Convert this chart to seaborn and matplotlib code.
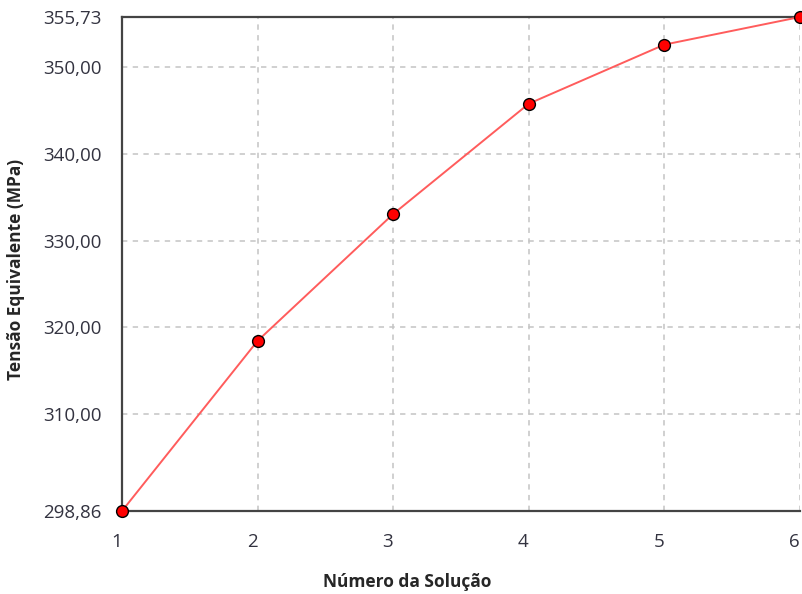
import pandas as pd
import matplotlib.pyplot as plt
import seaborn as sns

# data
solucao = [1, 2, 3, 4, 5, 6]
tensao = [298.86, 318.45, 333.05, 345.75, 352.55, 355.73]
y_ticks = [298.86, 310.00, 320.00, 330.00, 340.00, 350.00, 355.73]

df = pd.DataFrame({'solucao': solucao, 'tensao': tensao})

sns.set_style('white')
plt.rcParams['font.family'] = ['Open Sans', 'DejaVu Sans']

fig = plt.figure(figsize=(8.02, 5.94), dpi=100)
ax = fig.add_axes([122 / 802, 1 - 511 / 594, 678 / 802, 494 / 594])

sns.lineplot(data=df, x='solucao', y='tensao', ax=ax, color='#ff5c5c', linewidth=1.4,
             marker='o', markersize=8.5, markerfacecolor='red', markeredgecolor='black',
             markeredgewidth=1.0, clip_on=False, zorder=5)

ax.set_xlim(1, 6)
ax.set_ylim(298.86, 355.73)
ax.set_xticks(solucao)
ax.set_yticks(y_ticks)
ax.set_yticklabels([f'{v:.2f}'.replace('.', ',') for v in y_ticks])

ax.grid(True, color='#c4c4c4', linestyle=(0, (3.5, 3.5)), linewidth=1.1)
for side in ['left', 'bottom', 'top']:
    ax.spines[side].set_color('#444444')
    ax.spines[side].set_linewidth(1.6)
ax.spines['right'].set_visible(False)

ax.tick_params(axis='y', length=8.5, width=1, color='#aaaaaa', labelsize=13.5, labelcolor='#333340', pad=6)
ax.tick_params(axis='x', length=0, labelsize=13.5, labelcolor='#333340', pad=16)
for lbl in ax.get_xticklabels():
    lbl.set_horizontalalignment('right')

ax.set_xlabel('')
ax.set_ylabel('')
fig.text(407 / 802, 1 - 582 / 594, 'Número da Solução', fontsize=12.5, fontweight='bold',
         ha='center', va='center')
fig.text(16 / 802, 1 - 269 / 594, 'Tensão Equivalente (MPa)', fontsize=12.5, fontweight='bold',
         ha='center', va='center', rotation=90)

plt.savefig('out.png', dpi=100)
